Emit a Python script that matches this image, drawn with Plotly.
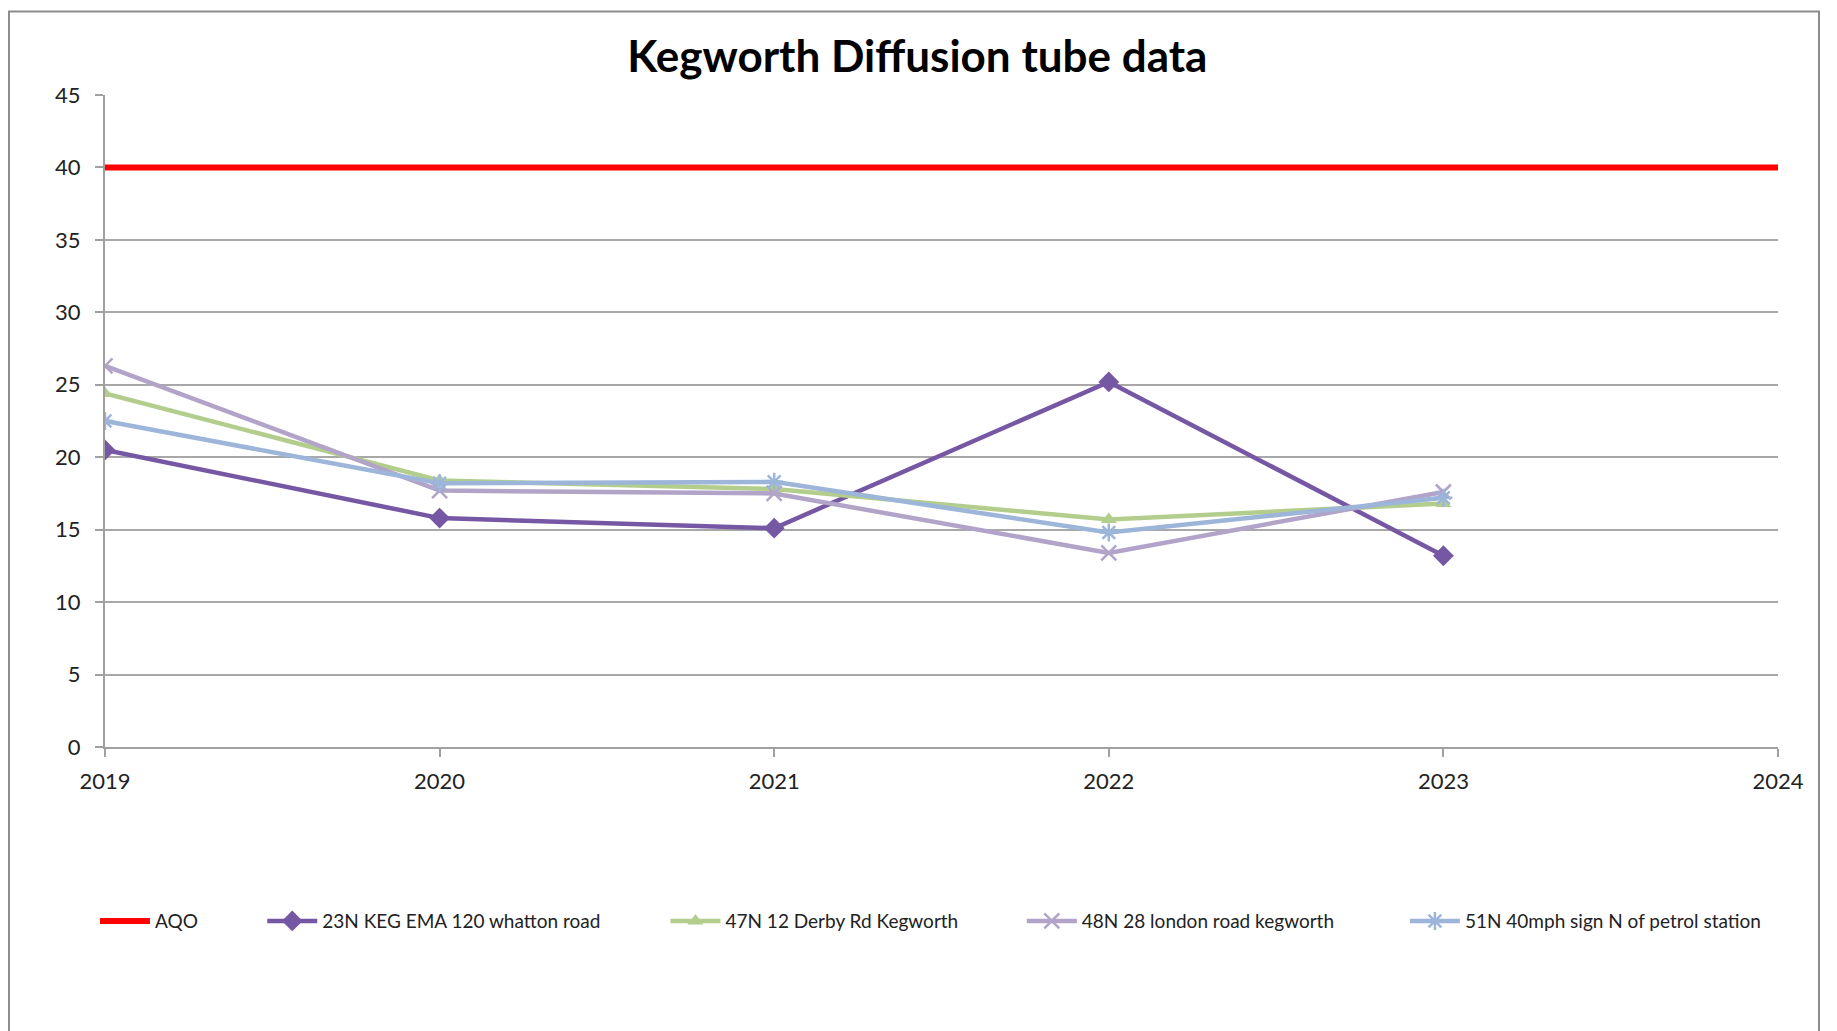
import plotly.graph_objects as go

years = [2019, 2020, 2021, 2022, 2023]
aqo_x = [2019, 2024]
aqo_y = [40, 40]
s23n = [20.5, 15.8, 15.1, 25.2, 13.2]
s47n = [24.4, 18.4, 17.8, 15.7, 16.8]
s48n = [26.3, 17.7, 17.5, 13.4, 17.6]
s51n = [22.5, 18.2, 18.3, 14.8, 17.2]

names = ["AQO", "23N KEG EMA 120 whatton road", "47N 12 Derby Rd Kegworth",
         "48N 28 london road kegworth", "51N 40mph sign N of petrol station"]

fig = go.Figure()
fig.add_trace(go.Scatter(x=aqo_x, y=aqo_y, mode="lines", name=names[0], legend="legend",
                         line=dict(color="#FF0000", width=6)))
fig.add_trace(go.Scatter(x=years, y=s23n, mode="lines+markers", name=names[1], legend="legend2",
                         line=dict(color="#7657A4", width=4.5),
                         marker=dict(symbol="diamond", size=16, color="#7657A4")))
fig.add_trace(go.Scatter(x=years, y=s47n, mode="lines+markers", name=names[2], legend="legend3",
                         line=dict(color="#B3CE8C", width=4.5),
                         marker=dict(symbol="triangle-up", size=14, color="#B3CE8C")))
fig.add_trace(go.Scatter(x=years, y=s48n, mode="lines+markers", name=names[3], legend="legend4",
                         line=dict(color="#B2A3C8", width=4.5),
                         marker=dict(symbol="x-thin-open", size=15,
                                     line=dict(color="#B2A3C8", width=2.5))))
fig.add_trace(go.Scatter(x=years, y=s51n, mode="lines+markers", name=names[4], legend="legend5",
                         line=dict(color="#9CB5D9", width=4.5),
                         marker=dict(symbol="asterisk-open", size=15,
                                     line=dict(color="#9CB5D9", width=2.5))))

leg_common = dict(orientation="h", xanchor="left", y=-0.267, yanchor="middle",
                  font=dict(size=19, color="#222222"), bgcolor="rgba(0,0,0,0)",
                  itemwidth=50)
leg_x = [-0.006, 0.094, 0.335, 0.548, 0.777]

fig.update_layout(
    width=1837, height=1031,
    paper_bgcolor="white", plot_bgcolor="white",
    margin=dict(l=97, r=67, t=87, b=292),
    font=dict(family="Lato, 'Open Sans', sans-serif", color="#222222", size=20),
    title=dict(text="<b>Kegworth Diffusion tube data</b>", x=0.495, xanchor="center",
               y=0.953, yanchor="middle", font=dict(size=44, color="black")),
    showlegend=True,
    legend=dict(x=leg_x[0], **leg_common),
    legend2=dict(x=leg_x[1], **leg_common),
    legend3=dict(x=leg_x[2], **leg_common),
    legend4=dict(x=leg_x[3], **leg_common),
    legend5=dict(x=leg_x[4], **leg_common),
    xaxis=dict(range=[2019, 2024], tickvals=[2019, 2020, 2021, 2022, 2023, 2024],
               showgrid=False, showline=True, linecolor="#A0A0A0", linewidth=2,
               ticks="outside", ticklen=8, tickcolor="#A0A0A0", tickwidth=2,
               zeroline=False, tickfont=dict(size=22), ticklabelstandoff=6),
    yaxis=dict(range=[0, 45], tickvals=list(range(0, 46, 5)), showgrid=True,
               gridcolor="#A8A8A8", gridwidth=2, showline=True, linecolor="#A0A0A0",
               linewidth=2, ticks="outside", ticklen=8, tickcolor="#A0A0A0", tickwidth=2,
               zeroline=False, tickfont=dict(size=22), ticklabelstandoff=10),
)

fig.add_shape(type="rect", xref="paper", yref="paper",
              x0=-0.0574, x1=1.0245, y0=-0.5, y1=1.128,
              line=dict(color="#8C8C8C", width=2), fillcolor="rgba(0,0,0,0)", layer="below")

fig.write_html("out.html")
